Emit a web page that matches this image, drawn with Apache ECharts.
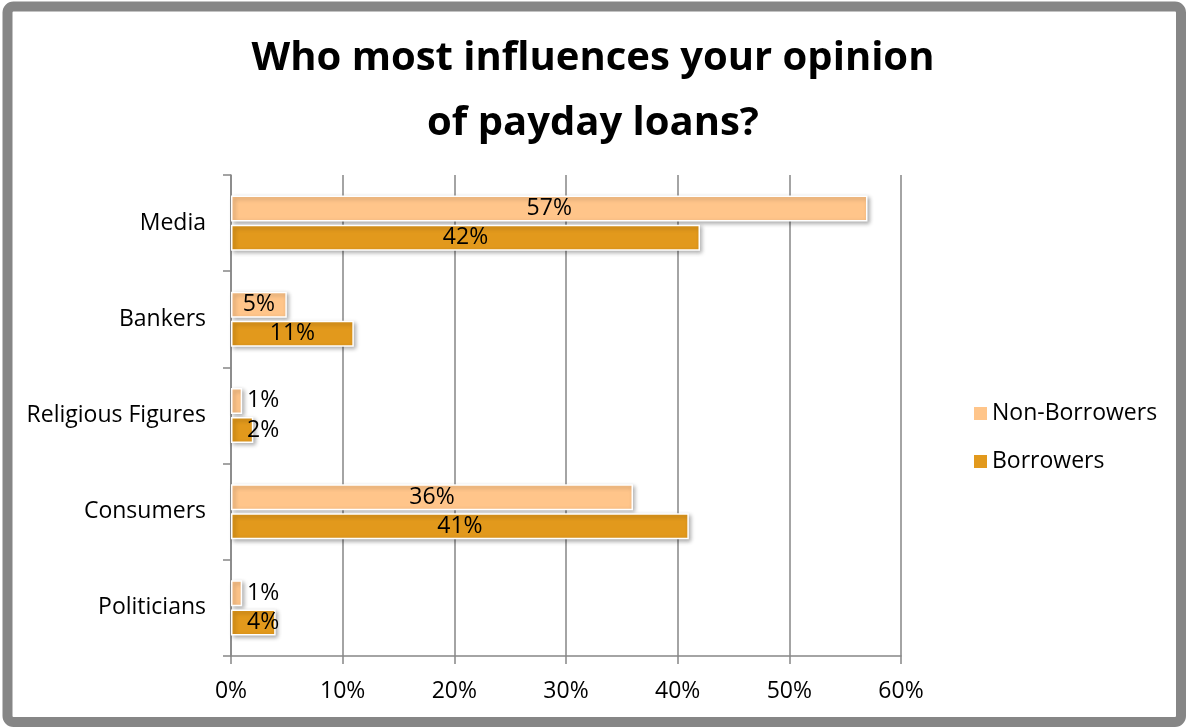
<!DOCTYPE html>
<html>
<head>
<meta charset="utf-8">
<script src="https://cdn.jsdelivr.net/npm/echarts@6/dist/echarts.min.js"></script>
<style>
  html, body { margin: 0; padding: 0; background: #fff; }
  #chart { width: 1186px; height: 727px; }
</style>
</head>
<body>
<div id="chart"></div>
<script>
// Survey answers, in percent
const categories = ['Media', 'Bankers', 'Religious Figures', 'Consumers', 'Politicians'];
const nonBorrowers = [57, 5, 1, 36, 1];
const borrowers = [42, 11, 2, 41, 4];
const seriesNames = ['Non-Borrowers', 'Borrowers'];
const xTicks = [0, 10, 20, 30, 40, 50, 60];

const FONT = '"Open Sans", "Noto Sans", sans-serif';
const GRAY = '#868686';
const TEXT_SIZE = 23;

// Small bars get their value printed just past the bar's start instead of centred
function toItems(values) {
  return values.map(v => {
    if (v < 5) {
      return { value: v, label: { position: 'insideLeft', offset: [11, 0] } };
    }
    return v;
  });
}

function barSeries(name, values, color) {
  return {
    name: name,
    type: 'bar',
    data: toItems(values),
    barWidth: 26,
    barGap: '12%',
    itemStyle: {
      color: color,
      borderColor: '#fff',
      borderWidth: 1.5,
      shadowBlur: 4,
      shadowOffsetX: 2,
      shadowOffsetY: 2,
      shadowColor: 'rgba(0,0,0,0.3)'
    },
    label: {
      show: true,
      position: 'inside',
      formatter: '{c}%',
      color: '#000',
      fontFamily: FONT,
      fontSize: TEXT_SIZE
    },
    emphasis: { disabled: true }
  };
}

const chart = echarts.init(document.getElementById('chart'), null, { renderer: 'canvas' });
chart.setOption({
  animation: false,
  backgroundColor: '#fff',
  title: {
    text: 'Who most influences your opinion\nof payday loans?',
    left: 'center',
    top: 21,
    textStyle: {
      fontFamily: FONT,
      fontWeight: 'bold',
      fontSize: 40,
      lineHeight: 65,
      color: '#000'
    }
  },
  legend: {
    orient: 'vertical',
    left: 969,
    top: 397,
    itemWidth: 13,
    itemHeight: 13,
    itemGap: 25,
    icon: 'rect',
    data: seriesNames,
    itemStyle: { borderWidth: 0, shadowBlur: 0, shadowOffsetX: 0, shadowOffsetY: 0 },
    textStyle: { fontFamily: FONT, fontSize: TEXT_SIZE, color: '#000' }
  },
  grid: { left: 231, right: 285, top: 175, bottom: 71, containLabel: false },
  xAxis: {
    type: 'value',
    min: xTicks[0],
    max: xTicks[xTicks.length - 1],
    interval: 10,
    axisLine: { show: true, lineStyle: { color: GRAY, width: 1.5 } },
    axisTick: { show: true, length: 8, lineStyle: { color: GRAY, width: 1.5 } },
    splitLine: { show: true, lineStyle: { color: GRAY, width: 1.5 } },
    axisLabel: {
      formatter: '{value}%',
      margin: 24,
      color: '#000',
      fontFamily: FONT,
      fontSize: TEXT_SIZE
    }
  },
  yAxis: {
    type: 'category',
    inverse: true,
    data: categories,
    axisLine: { show: true, lineStyle: { color: GRAY, width: 1.5 } },
    axisTick: { show: true, length: 8, lineStyle: { color: GRAY, width: 1.5 } },
    axisLabel: {
      margin: 25,
      color: '#000',
      fontFamily: FONT,
      fontSize: TEXT_SIZE
    }
  },
  graphic: [{
    type: 'rect',
    shape: { x: 7.5, y: 6.5, width: 1173.5, height: 715.5, r: 6 },
    style: { fill: 'none', stroke: GRAY, lineWidth: 10 },
    silent: true,
    z: 100
  }],
  series: [
    barSeries(seriesNames[0], nonBorrowers, '#FFC58A'),
    barSeries(seriesNames[1], borrowers, '#E2991C')
  ]
});
</script>
</body>
</html>
